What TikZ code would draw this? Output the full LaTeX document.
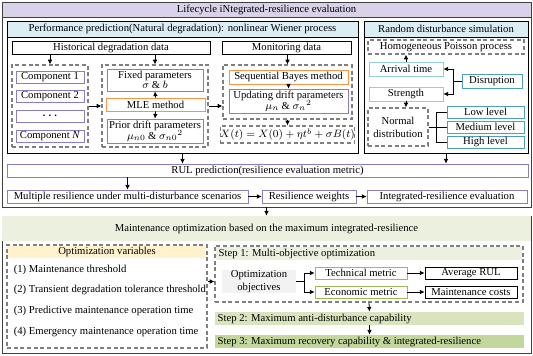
\documentclass[tikz,border=0pt]{standalone}
\usepackage{fontspec}
\setmainfont{Liberation Serif}
\usetikzlibrary{arrows.meta}
\definecolor{lav}{HTML}{D9D2E9}
\definecolor{hblue}{HTML}{DAEEF3}
\definecolor{pur}{HTML}{8E7CC3}
\definecolor{org}{HTML}{F79646}
\definecolor{tl}{HTML}{92CDDC}
\definecolor{td}{HTML}{4F9FB5}
\definecolor{gl}{HTML}{EBF1DE}
\definecolor{gm}{HTML}{D7E4BD}
\definecolor{gd}{HTML}{C3D69B}
\definecolor{gb}{HTML}{9BBB59}
\definecolor{cream}{HTML}{FFF2CC}
\definecolor{dg}{HTML}{7F7F7F}
\begin{document}
\begin{tikzpicture}[x=.75pt,y=-.75pt,font=\fontsize{8}{9}\selectfont,line width=.6pt,
  sz/.style 2 args={minimum width=#1*.75pt,minimum height=#2*.75pt},
  bx/.style={draw,inner sep=0pt,align=center},
  two/.style={font=\fontsize{8}{7.6}\selectfont},
  grp/.style={draw=dg,dash pattern=on 3pt off 2pt,line width=.9pt,inner sep=0pt,align=center},
  band/.style={inner sep=0pt,align=center},
  ar/.style={-{Latex[length=3.5pt,width=3.5pt]}}]
\useasboundingbox (0,0) rectangle (533,355);
% lifecycle evaluation
\node[bx,draw=black!75,sz={529}{205}] (top) at (266.5,104.5) {};
\node[bx,draw=black!75,fill=lav,sz={529}{15}] (toph) at (266.5,9.5) {Lifecycle iNtegrated-resilience evaluation};
\node[bx,sz={351}{132}] (perf) at (182.5,87) {};
\node[bx,fill=hblue,sz={351}{16}] (perfh) at (182.5,29) {Performance prediction(Natural degradation): nonlinear Wiener process};
\node[bx,sz={198}{13}] (hist) at (111,47.5) {Historical degradation data};
\node[bx,sz={129}{13}] (mon) at (286.5,47.5) {Monitoring data};
\node[grp,sz={76}{82}] (comp) at (50,106) {};
\node[bx,draw=pur,sz={68}{12}] (c1) at (50,77) {Component 1};
\node[bx,draw=pur,sz={68}{12}] (c2) at (50,96) {Component 2};
\node[bx,draw=pur,sz={68}{12}] (c3) at (50,116) {{\boldmath$\cdots$}};
\node[bx,draw=pur,sz={68}{12}] (cn) at (50,136) {Component \textit{N}};
\node[grp,sz={106}{82}] (mid) at (155,106) {};
\node[bx,two,draw=pur,sz={96}{22}] (fix) at (155,80) {Fixed parameters\\$\sigma$ \& $b$};
\node[bx,draw=org,sz={99}{13}] (mle) at (155.5,104.5) {MLE method};
\node[bx,two,draw=pur,sz={96}{24}] (prior) at (155,131) {Prior drift parameters\\[-1pt]$\mu_{n0}$ \& ${\sigma_{n0}}^{2}$};
\node[grp,sz={129}{54}] (bay) at (287.5,92) {};
\node[bx,draw=org,sz={119}{14}] (seq) at (288.5,77) {Sequential Bayes method};
\node[bx,two,draw=pur,sz={119}{24}] (upd) at (288.5,101) {Updating drift parameters\\[-1pt]$\mu_n$ \& ${\sigma_n}^{2}$};
\node[grp,sz={129}{17}] (wien) at (287.5,134.5) {$X(t)=X(0)+\eta t^{b}+\sigma B(t)$};
\draw[ar] (comp.north |- hist.south) -- (comp.north);
\draw[ar] (mid.north |- hist.south) -- (mid.north);
\draw[ar] (bay.north |- mon.south) -- (bay.north);
\draw[ar] (comp.east) -- (mid.west);
\draw[ar] (mid.east) -- (bay.west |- mid.east);
\draw[ar] (mle.north) -- (fix.south);
\draw[ar] (mle.south) -- (prior.north);
\draw[ar] (seq.south) -- (upd.north);
\draw[ar] (bay.south) -- (wien.north);
% random disturbance
\node[bx,sz={164}{132}] (rand) at (446,87) {};
\node[bx,fill=hblue,sz={164}{16}] (randh) at (446,29) {Random disturbance simulation};
\node[grp,sz={156}{14}] (poi) at (446,47) {Homogeneous Poisson process};
\node[bx,draw=tl,sz={74}{14}] (arr) at (406,69) {Arrival time};
\node[bx,draw=tl,sz={74}{14}] (str) at (406,94) {Strength};
\node[bx,draw=td,sz={60}{14}] (dis) at (492,81) {Disruption};
\node[grp,two,sz={60}{38}] (nor) at (398,127) {Normal\\[2pt]distribution};
\node[bx,draw=td,sz={77}{12}] (low) at (485.5,112) {Low level};
\node[bx,draw=td,sz={77}{12}] (med) at (485.5,127) {Medium level};
\node[bx,draw=td,sz={77}{12}] (high) at (485.5,142) {High level};
\draw (dis.west) -- ++(-8,0) coordinate (dj);
\draw[ar] (dj) |- (arr.east);
\draw[ar] (dj) |- (str.east);
\draw[ar] (arr.north) -- (arr.north |- poi.south);
\draw[ar] (str.south) -- (str.south |- nor.north);
\draw (nor.east) -- ++(8,0) coordinate (nj);
\draw (nj) |- (low.west) (nj) |- (med.west) (nj) |- (high.west);
% resilience
\node[bx,draw=pur,sz={521}{13}] (rul) at (267.5,170.5) {RUL prediction(resilience evaluation metric)};
\node[bx,draw=pur,sz={241}{13}] (mult) at (127.5,196.5) {Multiple resilience under multi-disturbance scenarios};
\node[bx,draw=pur,sz={94}{13}] (wt) at (309,196.5) {Resilience weights};
\node[bx,draw=pur,sz={160}{13}] (ire) at (447,196.5) {Integrated-resilience evaluation};
\draw[ar] (perf.south) -- (perf.south |- rul.north);
\draw[ar] (rand.south) -- (rand.south |- rul.north);
\draw[ar] (mult.north |- rul.south) -- (mult.north);
\draw[ar] (mult.east) -- (wt.west);
\draw[ar] (wt.east) -- (ire.west);
% maintenance optimization
\node[bx,draw=black!75,sz={529}{137}] (opt) at (266.5,284.5) {};
\node[band,fill=gl,sz={528}{24.5}] (opth) at (266.5,228.5) {Maintenance optimization based on the maximum integrated-resilience};
\draw[ar] (top.south) -- (opt.north);
\node[grp,sz={200}{103}] (vars) at (107,296.5) {};
\node[band,fill=cream,sz={198}{12}] (varsh) at (107,252) {Optimization variables};
\node[anchor=west] (v1) at (9,270) {(1) Maintenance threshold};
\node[anchor=west] (v2) at (9,290) {(2) Transient degradation tolerance threshold};
\node[anchor=west] (v3) at (9,311) {(3) Predictive maintenance operation time};
\node[anchor=west] (v4) at (9,332) {(4) Emergency maintenance operation time};
\node[grp,sz={308}{56}] (s1) at (369,274) {};
\node[band,fill=gl,sz={306}{13},label={[anchor=west,inner sep=2pt]west:{Step 1: Multi-objective optimization}}] (s1h) at (369,253.5) {};
\node[band,two,fill=black!5,sz={74}{23}] (obj) at (259,281.5) {Optimization\\[2pt]objectives};
\node[bx,draw=gb,sz={92}{12}] (tech) at (361,273) {Technical metric};
\node[bx,draw=gb,sz={92}{12}] (eco) at (361,292) {Economic metric};
\node[bx,sz={92}{12}] (avg) at (471,273) {Average RUL};
\node[bx,sz={92}{12}] (cost) at (471,292) {Maintenance costs};
\node[band,fill=gm,sz={309}{13},label={[anchor=west,inner sep=2pt]west:{Step 2: Maximum anti-disturbance capability}}] (s2) at (369.5,318.5) {};
\node[band,fill=gd,sz={309}{13},label={[anchor=west,inner sep=2pt]west:{Step 3: Maximum recovery capability \& integrated-resilience}}] (s3) at (369.5,341.5) {};
\draw[ar] (vars.east |- obj.west) -- (s1.west |- obj.west);
\draw (obj.east) -- ++(8,0) coordinate (oj);
\draw[ar] (oj) |- (tech.west);
\draw[ar] (oj) |- (eco.west);
\draw[ar] (tech.east) -- (avg.west);
\draw[ar] (eco.east) -- (cost.west);
\draw[ar] (s1.south) -- (s2.north);
\draw[ar] (s2.south) -- (s3.north);
\end{tikzpicture}
\end{document}
